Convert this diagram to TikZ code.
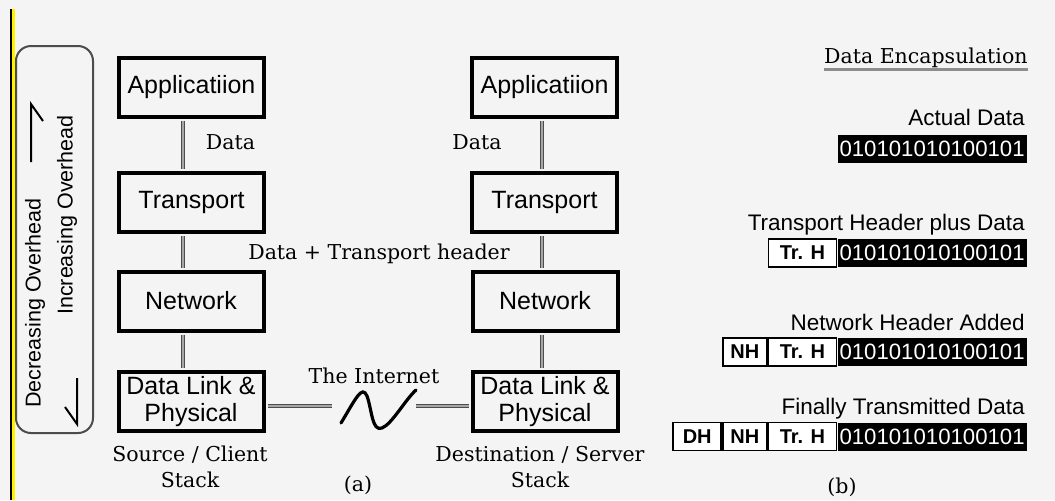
\documentclass[tikz,border=0pt]{standalone}
\usepackage{fontspec}
\setmainfont{DejaVu Serif}
\setsansfont{Liberation Sans}
\usetikzlibrary{positioning}
\definecolor{pagebg}{RGB}{244,244,244}

\begin{document}
\begin{tikzpicture}[
  x=0.5pt, y=-0.5pt,
  layer/.style={draw, line width=2pt, minimum width=72.5pt, minimum height=29.5pt,
                inner sep=0pt, align=center, font=\fontsize{12.5}{13.5}\sffamily},
  lbl/.style={font=\fontsize{10.25}{13}\selectfont, align=center, inner sep=0pt},
  link/.style={draw=black!70, double=black!35, double distance=1pt, line width=0.5pt,
               shorten <=1pt, shorten >=1pt},
  uline/.style={draw=black!45, line width=1.5pt},
  side/.style={rotate=90, font=\fontsize{10.75}{12}\sffamily, inner sep=0pt},
  harp/.style={line width=1pt},
  capt/.style={font=\fontsize{11.25}{12}\sffamily, inner sep=0pt, anchor=base east},
  bits/.style={fill=black, text=white, minimum width=94.5pt, minimum height=14pt,
               inner sep=0pt, anchor=east, font=\fontsize{11.1}{12}\sffamily},
  hdr/.style={draw, fill=white, line width=0.8pt, minimum height=14pt, inner sep=0pt,
              font=\fontsize{10}{12}\sffamily\bfseries}
]
  \fill[pagebg] (0,0) rectangle (1055,500);
  \fill[black]  (10,9) rectangle (12,500);
  \fill[yellow] (12,9) rectangle (14.5,500);

  % overhead frame
  \draw[black!70, line width=1pt, rounded corners=7.5pt] (16,46) rectangle (93,433);
  \node[side] (dec) at (35,303) {Decreasing Overhead};
  \node[side] (inc) at (67,215) {Increasing Overhead};
  \draw[harp] (31,162) -- (31,104) -- (43,121);
  \draw[harp] (77,378) -- (77,424) -- (65,407);

  % source stack
  \node[layer] (lapp) at (191.5,87)    {Applicatiion};
  \node[layer] (ltr)  at (191.5,202.5) {Transport};
  \node[layer] (lnet) at (191,301)     {Network};
  \node[layer] (ldl)  at (191,401.5)   {Data Link \&\\Physical};

  % destination stack
  \node[layer] (rapp) at (544.5,87)    {Applicatiion};
  \node[layer] (rtr)  at (544.5,202.5) {Transport};
  \node[layer] (rnet) at (545,301)     {Network};
  \node[layer] (rdl)  at (545,401.5)   {Data Link \&\\Physical};

  \coordinate (lx) at (183,0);
  \coordinate (rx) at (542,0);
  \draw[link] (lapp.south -| lx) -- (ltr.north -| lx);
  \draw[link] (ltr.south -| lx)  -- (lnet.north -| lx);
  \draw[link] (lnet.south -| lx) -- (ldl.north -| lx);
  \draw[link] (rapp.south -| rx) -- (rtr.north -| rx);
  \draw[link] (rtr.south -| rx)  -- (rnet.north -| rx);
  \draw[link] (rnet.south -| rx) -- (rdl.north -| rx);

  \node[lbl, anchor=base] (ldata) at (230.5,149) {Data};
  \node[lbl, anchor=base] (rdata) at (477,149)   {Data};
  \node[lbl, anchor=base] (trh)   at (379,259)   {Data + Transport header};

  % the internet
  \coordinate (ia) at (334,406);
  \coordinate (ib) at (414,406);
  \coordinate (wa) at (341,423);
  \coordinate (wb) at (416,390);
  \draw[link] (ldl.east |- ia) -- (ia);
  \draw[link] (ib) -- (rdl.west |- ib);
  \draw[line width=1.6pt, line cap=round]
    (wa) .. controls (355,400) and (362,384) .. (367,396)
         .. controls (372,410) and (372,432) .. (382,428)
         .. controls (392,424) and (405,400) .. (wb);
  \node[lbl, anchor=base] (inet) at (374,383) {The Internet};

  \node[lbl, anchor=base] (src) at (190,487) {Source / Client\\Stack};
  \node[lbl, anchor=base] (dst) at (540,487) {Destination / Server\\Stack};
  \node[lbl] (pa) at (358,485) {(a)};

  % encapsulation
  \node[lbl, anchor=base east] (title) at (1028,63) {Data Encapsulation};
  \draw[uline] ([yshift=-3pt]title.base west) -- ([yshift=-3pt]title.base east);

  \node[capt] (c1) at (1025,125) {Actual Data};
  \node[bits] (d1) at (1027,148.5) {010101010100101};

  \node[capt] (c2) at (1025,230) {Transport Header plus Data};
  \node[bits] (d2) at (1027,253) {010101010100101};
  \node[hdr, minimum width=34pt, left=0pt of d2] (t2) {Tr. H};

  \node[capt] (c3) at (1025,330) {Network Header Added};
  \node[bits] (d3) at (1027,352) {010101010100101};
  \node[hdr, minimum width=34pt, left=0pt of d3] (t3) {Tr. H};
  \node[hdr, minimum width=22pt, left=0pt of t3] (n3) {NH};

  \node[capt] (c4) at (1025,414) {Finally Transmitted Data};
  \node[bits] (d4) at (1027,436.5) {010101010100101};
  \node[hdr, minimum width=34pt, left=0pt of d4] (t4) {Tr. H};
  \node[hdr, minimum width=22pt, left=0pt of t4] (n4) {NH};
  \node[hdr, minimum width=24pt, left=0pt of n4] (h4) {DH};

  \node[lbl] (pb) at (842,487) {(b)};
\end{tikzpicture}
\end{document}
